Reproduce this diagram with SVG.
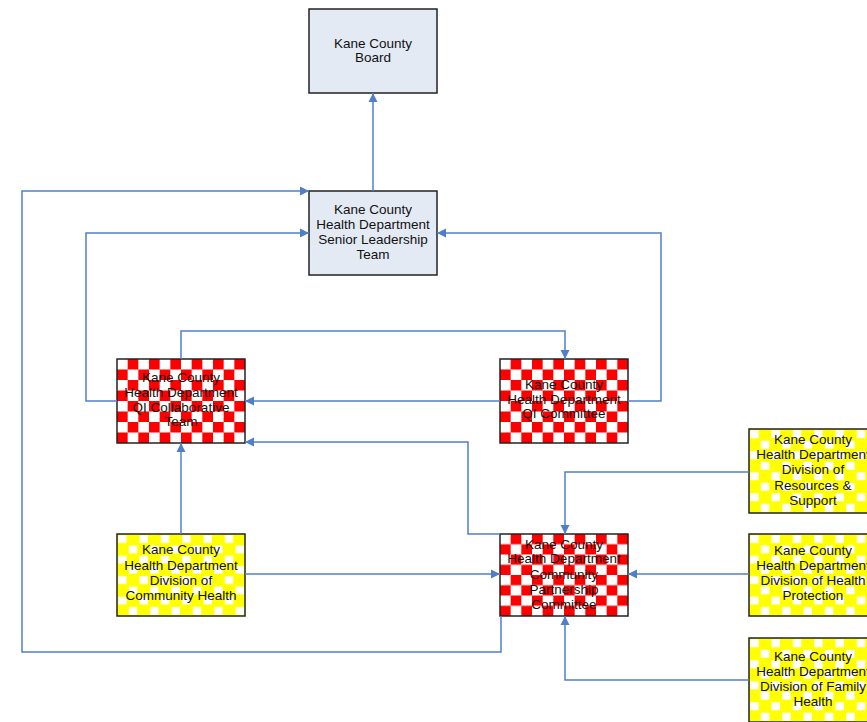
<svg xmlns="http://www.w3.org/2000/svg" width="867" height="722" viewBox="0 0 867 722">
<style>
.box{stroke:#222;stroke-width:1.5}
.plain{fill:#E4EAF4}
.red{fill:url(#redCheck)}
.yel{fill:url(#yelCheck)}
.lbl{font-family:"Liberation Sans",Arial,sans-serif;font-size:13.5px;fill:#111;text-anchor:middle}
.con{fill:none;stroke:#4F7FC9;stroke-width:1.5}
</style>
<defs>
<pattern id="redCheck" patternUnits="objectBoundingBox" width="0.1666667" height="0.25" patternContentUnits="objectBoundingBox">
<rect x="0" y="0" width="0.1666667" height="0.25" fill="#fff"/>
<rect x="0.0833333" y="0" width="0.0833333" height="0.125" fill="#f00"/>
<rect x="0" y="0.125" width="0.0833333" height="0.125" fill="#f00"/>
</pattern>
<pattern id="yelCheck" patternUnits="objectBoundingBox" width="0.1666667" height="0.25" patternContentUnits="objectBoundingBox">
<rect x="0" y="0" width="0.1666667" height="0.25" fill="#ff0"/>
<rect x="0.01" y="0.015" width="0.065" height="0.095" fill="#fff"/>
<rect x="0.0933" y="0.14" width="0.065" height="0.095" fill="#fff"/>
</pattern>
<marker id="arr" markerUnits="userSpaceOnUse" markerWidth="10" markerHeight="10" refX="9" refY="5" orient="auto">
<path d="M0,0.5 L9,5 L0,9.5 z" fill="#4F7FC9"/>
</marker>
</defs>

<g id="board">
<rect class="box plain" x="309" y="9" width="128" height="84"/>
<text class="lbl" x="373" y="48">Kane County</text>
<text class="lbl" x="373" y="62">Board</text>
</g>

<g id="senior">
<rect class="box plain" x="309" y="191" width="128" height="84"/>
<text class="lbl" x="373" y="214">Kane County</text>
<text class="lbl" x="373" y="229">Health Department</text>
<text class="lbl" x="373" y="244">Senior Leadership</text>
<text class="lbl" x="373" y="259">Team</text>
</g>

<g id="qi-collab">
<rect class="box red" x="117" y="359" width="128" height="84"/>
<text class="lbl" x="181" y="382">Kane County</text>
<text class="lbl" x="181" y="397">Health Department</text>
<text class="lbl" x="181" y="412">QI Collaborative</text>
<text class="lbl" x="181" y="426">Team</text>
</g>

<g id="qi-committee">
<rect class="box red" x="500" y="359" width="128" height="84"/>
<text class="lbl" x="564" y="389">Kane County</text>
<text class="lbl" x="564" y="404">Health Department</text>
<text class="lbl" x="564" y="418">QI Committee</text>
</g>

<g id="community-health">
<rect class="box yel" x="117" y="534" width="128" height="82"/>
<text class="lbl" x="181" y="554">Kane County</text>
<text class="lbl" x="181" y="570">Health Department</text>
<text class="lbl" x="181" y="585">Division of</text>
<text class="lbl" x="181" y="600">Community Health</text>
</g>

<g id="partnership">
<rect class="box red" x="500" y="534" width="128" height="82"/>
<text class="lbl" x="564" y="549">Kane County</text>
<text class="lbl" x="564" y="563">Health Department</text>
<text class="lbl" x="564" y="579">Community</text>
<text class="lbl" x="564" y="594">Partnership</text>
<text class="lbl" x="564" y="609">Committee</text>
</g>

<g id="resources">
<rect class="box yel" x="749" y="429" width="128" height="84"/>
<text class="lbl" x="813" y="444">Kane County</text>
<text class="lbl" x="813" y="459">Health Department</text>
<text class="lbl" x="813" y="474">Division of</text>
<text class="lbl" x="813" y="490">Resources &amp;</text>
<text class="lbl" x="813" y="505">Support</text>
</g>

<g id="health-protection">
<rect class="box yel" x="749" y="534" width="128" height="82"/>
<text class="lbl" x="813" y="555">Kane County</text>
<text class="lbl" x="813" y="570">Health Department</text>
<text class="lbl" x="813" y="585">Division of Health</text>
<text class="lbl" x="813" y="600">Protection</text>
</g>

<g id="family-health">
<rect class="box yel" x="749" y="638" width="128" height="84"/>
<text class="lbl" x="813" y="661">Kane County</text>
<text class="lbl" x="813" y="676">Health Department</text>
<text class="lbl" x="813" y="691">Division of Family</text>
<text class="lbl" x="813" y="706">Health</text>
</g>

<g id="connectors">
<path class="con" marker-end="url(#arr)" d="M373,191 V93"/>
<path class="con" marker-end="url(#arr)" d="M501,616 V652 H22 V191 H309"/>
<path class="con" marker-end="url(#arr)" d="M117,401 H86 V233 H309"/>
<path class="con" marker-end="url(#arr)" d="M628,401 H661 V233 H437"/>
<path class="con" marker-end="url(#arr)" d="M181,359 V331 H565 V359"/>
<path class="con" marker-end="url(#arr)" d="M500,401 H245"/>
<path class="con" marker-end="url(#arr)" d="M181,534 V443"/>
<path class="con" marker-end="url(#arr)" d="M500,534 H468 V442 H245"/>
<path class="con" marker-end="url(#arr)" d="M245,574 H500"/>
<path class="con" marker-end="url(#arr)" d="M749,472 H565 V534"/>
<path class="con" marker-end="url(#arr)" d="M749,574 H628"/>
<path class="con" marker-end="url(#arr)" d="M749,680 H565 V616"/>
</g>
</svg>
